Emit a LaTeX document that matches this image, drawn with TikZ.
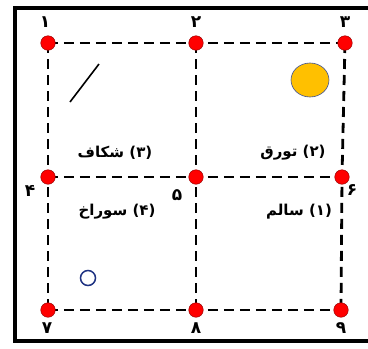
\documentclass[tikz,border=0pt]{standalone}
\usepackage{fontspec}
\usetikzlibrary{shapes.geometric}
\newfontfamily\arabicfont[Script=Arabic]{DejaVu Sans}
\TeXXeTstate=1
\begin{document}
\begin{tikzpicture}[x=1pt,y=-1pt,
  pt/.style={circle,fill=red,draw=red!60!black,line width=0.5pt,minimum size=14.5pt,inner sep=0pt},
  grid/.style={dashed,dash pattern=on 10pt off 6pt,line width=2.8pt,black},
  lbl/.style={font=\arabicfont\bfseries\fontsize{15}{16}\selectfont,inner sep=0pt},
  num/.style={font=\arabicfont\bfseries\fontsize{17}{18}\selectfont,inner sep=0pt}]
\useasboundingbox (0,0) rectangle (368,349);
\fill[white] (0,0) rectangle (368,349);
% frame
\draw[line width=3.5pt] (370,8) -- (15,8) -- (15,341) -- (370,341);
% grid coordinates
\coordinate (c1) at (48,43);
\coordinate (c2) at (196,43);
\coordinate (c3) at (345,43);
\coordinate (c4) at (48,177);
\coordinate (c5) at (196,177);
\coordinate (c6) at (342,177);
\coordinate (c7) at (48,310);
\coordinate (c8) at (196,310);
\coordinate (c9) at (341,310);
% dashed lines
\draw[grid] (c1) -- (c2) -- (c3);
\draw[grid] (c4) -- (c5) -- (c6);
\draw[grid] (c7) -- (c8) -- (c9);
\draw[grid] (c1) -- (c4) -- (c7);
\draw[grid] (c2) -- (c5) -- (c8);
\draw[grid] (c3) -- (c6) -- (c9);
% points
\foreach \i in {1,...,9} \node[pt] (p\i) at (c\i) {};
% numbers
\node[num] (n1) at (45,22) {\beginR ۱\endR};
\node[num] (n2) at (196,22) {\beginR ۲\endR};
\node[num] (n3) at (345,22) {\beginR ۳\endR};
\node[num] (n4) at (30,191) {\beginR ۴\endR};
\node[num] (n5) at (177,195) {\beginR ۵\endR};
\node[num] (n6) at (352,190) {\beginR ۶\endR};
\node[num] (n7) at (47,328) {\beginR ۷\endR};
\node[num] (n8) at (196,328) {\beginR ۸\endR};
\node[num] (n9) at (341,328) {\beginR ۹\endR};
% region labels
\node[lbl] (t3) at (115,153) {\beginR (۳) شکاف\endR};
\node[lbl] (t2) at (293,153) {\beginR (۲) تورق\endR};
\node[lbl] (t4) at (117,212) {\beginR (۴) سوراخ\endR};
\node[lbl] (t1) at (299,212) {\beginR (۱) سالم\endR};
% symbols
\coordinate (s1) at (70,102);
\coordinate (s2) at (99,64);
\draw[line width=1.6pt] (s1) -- (s2);
\node[ellipse,fill={rgb,255:red,255;green,192;blue,0},draw={rgb,255:red,60;green,80;blue,150},line width=0.6pt,minimum width=38pt,minimum height=34pt,inner sep=0pt] (sun) at (310,80) {};
\node[circle,draw={rgb,255:red,30;green,50;blue,130},line width=1.5pt,minimum size=15pt,inner sep=0pt] (hole) at (88,278) {};
\end{tikzpicture}
\end{document}
